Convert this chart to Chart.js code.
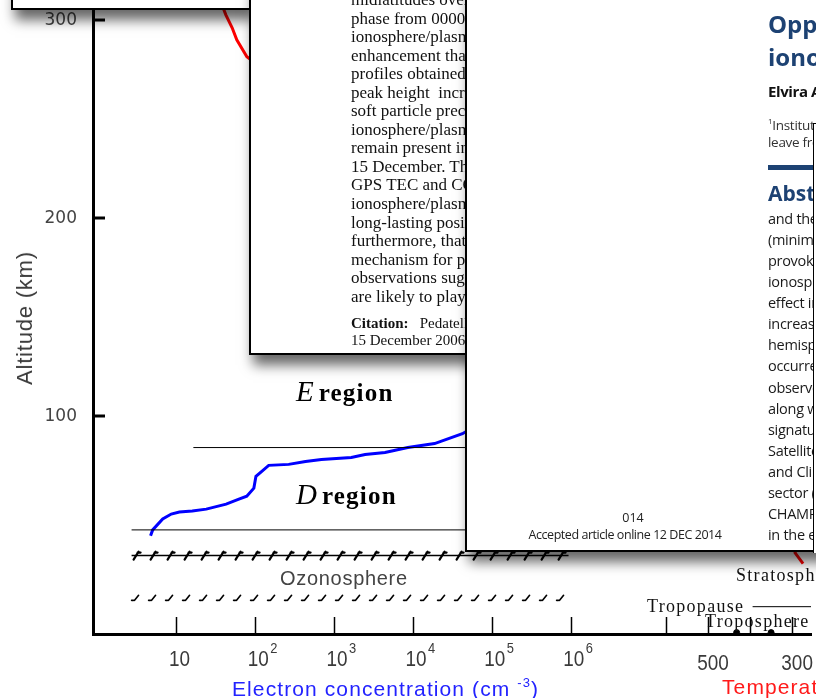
<!DOCTYPE html>
<html>
<head>
<meta charset="utf-8">
<title>Ionosphere profile</title>
<script src="https://cdn.jsdelivr.net/npm/chart.js@4.4.1/dist/chart.umd.min.js"></script>
<style>
  html, body { margin: 0; padding: 0; background: #fff; }
  #stage { position: relative; width: 816px; height: 698px; overflow: hidden; background: #fff; }
  #plot { position: absolute; left: 0; top: 0; }
  .lbl { position: absolute; white-space: nowrap; line-height: 1; }
  .sheet { position: absolute; background: #fff; border: 2px solid #000; box-sizing: border-box;
           overflow: hidden; box-shadow: 4px 10px 12px rgba(0,0,0,0.6); }
  .serif { font-family: 'Liberation Serif', 'Times New Roman', serif; }
  .sans { font-family: 'Open Sans', 'Noto Sans', sans-serif; }
  .region i { font-size: 29px; }
  .region b { font-size: 25px; letter-spacing: 1.2px; margin-left: 5px; }
  .atm { font-family: 'Liberation Serif', serif; font-size: 18px; letter-spacing: 1.3px; color: #111; }
  #p2text { position: absolute; left: 100px; top: 9px; font-size: 17px; line-height: 18.55px; color: #111; }
  #p2text div { white-space: nowrap; }
  .col { position: absolute; left: 301px; white-space: nowrap; line-height: 1; }
</style>
</head>
<body>
<div id="stage">
  <canvas id="plot" width="816" height="698"></canvas>

  <!-- axis titles -->
  <div class="lbl" style="left:25px; top:318px; font-family:'Liberation Sans',sans-serif; font-size:22px; letter-spacing:0.8px; color:#3a3a3a; transform:translate(-50%,-50%) rotate(-90deg);">Altitude (km)</div>
  <div class="lbl" style="left:232px; top:676px; font-family:'Liberation Sans',sans-serif; font-size:21px; letter-spacing:1.1px; color:#2323ff;">Electron concentration (cm <sup style="font-size:13px; vertical-align:9px;">-3</sup>)</div>
  <div class="lbl" style="left:722px; top:676px; font-family:'Liberation Sans',sans-serif; font-size:21px; letter-spacing:1.1px; color:#ff1a1a;">Temperature (K)</div>

  <!-- region labels -->
  <div class="lbl serif region" style="left:296px; top:377px;"><i>E</i><b>region</b></div>
  <div class="lbl serif region" style="left:296px; top:480px;"><i>D</i><b>region</b></div>
  <div class="lbl" style="left:280px; top:568px; font-family:'Liberation Sans',sans-serif; font-size:20px; letter-spacing:0.7px; color:#444;">Ozonosphere</div>
  <div class="lbl atm" style="left:736px; top:566px;">Stratosphere</div>
  <div class="lbl atm" style="left:647px; top:597px;">Tropopause</div>
  <div class="lbl atm" style="left:705px; top:612px;">Troposphere</div>

  <!-- overlapping article windows -->
  <div class="sheet" style="left:11px; top:-300px; width:240px; height:310px;"></div>

  <div class="sheet serif" style="left:249px; top:-20px; width:500px; height:375px;">
    <div id="p2text">
      <div>midlatitudes over the American sector during</div>
      <div>phase from 0000 UT to 0600 UT on</div>
      <div>ionosphere/plasmasphere</div>
      <div>enhancement that extends</div>
      <div>profiles obtained from</div>
      <div>peak height&nbsp; increase</div>
      <div>soft particle precipitation</div>
      <div>ionosphere/plasmasphere</div>
      <div>remain present in the</div>
      <div>15 December. The</div>
      <div>GPS TEC and COSMIC</div>
      <div>ionosphere/plasmasphere</div>
      <div>long-lasting positive</div>
      <div>furthermore, that the</div>
      <div>mechanism for positive</div>
      <div>observations suggest</div>
      <div>are likely to play</div>
      <div style="font-size:15px; margin-top:9px; line-height:16.6px;"><b>Citation:</b>&nbsp;&nbsp; Pedatella, N. M.</div>
      <div style="font-size:15px; line-height:16.6px;">15 December 2006 geomagnetic</div>
    </div>
  </div>

  <div class="sheet sans" style="left:465px; top:-50px; width:500px; height:602px;">
    <div class="col" style="top:60px; font-size:24px; font-weight:bold; color:#1d4273;">Opposite hemispheric</div>
    <div class="col" style="top:93px; font-size:24px; font-weight:bold; color:#1d4273;">ionospheric storm</div>
    <div class="col" style="top:132px; font-size:15px; font-weight:bold; letter-spacing:-0.4px; color:#111;">Elvira Astafyeva</div>
    <div class="col" style="top:165px; font-size:13.5px; letter-spacing:-0.3px; color:#333;"><sup style="font-size:8px;">1</sup>Institut de Physique</div>
    <div class="col" style="top:184px; font-size:13.5px; letter-spacing:-0.3px; color:#333;">leave from</div>
    <div class="col" style="top:213px; width:200px; height:5px; background:#1d4273;"></div>
    <div class="col" style="top:231px; font-size:21px; font-weight:bold; color:#1d4273;">Abstract</div>
    <div class="col" style="top:256px; font-size:14.5px; letter-spacing:-0.3px; color:#1a1a1a; line-height:21.06px;">
      <div>and the</div><div>(minimum</div><div>provoked</div><div>ionospheric</div><div>effect in</div>
      <div>increase</div><div>hemisphere</div><div>occurred</div><div>observed</div><div>along with</div>
      <div>signatures</div><div>Satellite</div><div>and Climate</div><div>sector (</div><div>CHAMP</div><div>in the evening</div>
    </div>
    <div class="lbl" style="left:166px; top:560px; font-size:12.5px; color:#222; transform:translateX(-50%);">014</div>
    <div class="lbl" style="left:158px; top:577px; font-size:12.5px; letter-spacing:-0.45px; color:#222; transform:translateX(-50%);">Accepted article online 12 DEC 2014</div>
  </div>

  <div style="position:absolute; left:813px; top:123px; width:60px; height:429px; background:#fff; border-left:1.5px solid #000; border-top:1px solid #000;"></div>
</div>

<script>
// electron concentration profile (cm^-3) against altitude (km)
const densityValues = [4.7, 5.0, 6.7, 8.6, 10.9, 15.9, 23.9, 42.7, 62, 78, 96, 102, 121, 148, 265, 434,
                       690, 1650, 2470, 4420, 8600, 18800, 42400, 100000, 150000, 300000, 1000000, 1500000];
const densityAltitudes = [39.6, 42.6, 48.1, 50.6, 51.6, 52.1, 53.1, 55.6, 58.1, 59.6, 63.7, 69.7, 72.2, 75.2, 75.7, 77.2,
                          78.2, 79.2, 80.7, 81.7, 84.2, 86.2, 91.2, 100, 110, 160, 250, 300];

// temperature profile (K) against altitude (km)
const tempValues = [1660, 1647, 1632, 1621, 1597, 1400, 900, 600, 300, 180, 260, 293, 274];
const tempAltitudes = [310, 302.8, 296.3, 290.2, 281.7, 250, 150, 120, 100, 85, 50, 31, 25.5];

// layer boundaries: altitude (km) and extent in cm^-3
const regionBoundaryAlt = [84.2, 42.6];
const regionBoundaryStart = [16.4, 2.7];
const regionBoundaryEnd = [100000, 100000];
const ozoneBoundaryAlt = [29.6, 8.0];
const ozoneBoundaryRange = [2.7, 940000];
const tropopauseAlt = 3.8;
const tropopauseTemps = [394, 250];
const surfaceMarkTemps = [432, 350];
const surfaceMarkAlt = -9.3;

// ticks
const altTicks = [100, 200, 300];
const densityTicks = [1e1, 1e2, 1e3, 1e4, 1e5, 1e6];
const densityExponents = ['', '2', '3', '4', '5', '6'];
const tempTicks = [600, 500, 400, 300];
const tempTickLabels = ['', '500', '', '300'];

function pairs(xs, ys) {
    return xs.map((v, i) => ({ x: v, y: ys[i] }));
}

const decorations = {
    id: 'decorations',
    afterDatasetsDraw(chart) {
        const ctx = chart.ctx;
        const area = chart.chartArea;
        const xs = chart.scales.x, xt = chart.scales.xT, ys = chart.scales.y;
        ctx.save();
        ctx.strokeStyle = '#000';
        ctx.lineCap = 'round';

        // hatched ozonosphere boundaries
        chart.data.datasets.forEach((ds, i) => {
            if (!ds.hatch) return;
            const pts = chart.getDatasetMeta(i).data;
            const a = pts[0], b = pts[pts.length - 1];
            for (let px = a.x + 5; px <= b.x; px += 17) {
                ctx.beginPath();
                if (ds.hatch === 'solid') {
                    ctx.lineWidth = 2.2;
                    ctx.moveTo(px - 3, a.y + 4);
                    ctx.lineTo(px + 2, a.y - 4);
                    ctx.moveTo(px + 1, a.y - 3);
                    ctx.lineTo(px + 4, a.y - 3);
                } else {
                    ctx.lineWidth = 1.6;
                    ctx.moveTo(px - 5, a.y + 2);
                    ctx.lineTo(px - 3, a.y + 2);
                    ctx.moveTo(px - 2, a.y + 2);
                    ctx.lineTo(px + 2, a.y - 3);
                }
                ctx.stroke();
            }
        });

        // inner ticks on the bottom axis
        ctx.lineCap = 'butt';
        ctx.lineWidth = 1.5;
        const tickRow = (scale, values) => values.forEach(v => {
            const px = Math.round(scale.getPixelForValue(v)) + 0.5;
            ctx.beginPath();
            ctx.moveTo(px, area.bottom);
            ctx.lineTo(px, area.bottom - 17);
            ctx.stroke();
        });
        tickRow(xs, densityTicks);
        tickRow(xt, tempTicks);

        // inner ticks on the altitude axis
        ctx.lineWidth = 3;
        altTicks.forEach(v => {
            const py = Math.round(ys.getPixelForValue(v));
            ctx.beginPath();
            ctx.moveTo(area.left, py);
            ctx.lineTo(area.left + 12, py);
            ctx.stroke();
        });
        ctx.restore();
    },
    afterDraw(chart) {
        const ctx = chart.ctx;
        const base = chart.chartArea.bottom;
        const xs = chart.scales.x, xt = chart.scales.xT;
        ctx.save();
        ctx.fillStyle = '#3a3a3a';
        ctx.textBaseline = 'alphabetic';
        const narrow = (text, x, y, size, align) => {
            ctx.save();
            ctx.translate(x, y);
            ctx.scale(0.86, 1);
            ctx.font = size + "px 'Liberation Sans', sans-serif";
            ctx.textAlign = align;
            ctx.fillText(text, 0, 0);
            ctx.restore();
        };
        densityTicks.forEach((v, i) => {
            const px = xs.getPixelForValue(v) + 3;
            narrow('10', px, base + 32, 22, 'center');
            if (densityExponents[i]) narrow(densityExponents[i], px + 12, base + 19, 15, 'left');
        });
        tempTicks.forEach((v, i) => {
            if (!tempTickLabels[i]) return;
            narrow(tempTickLabels[i], xt.getPixelForValue(v) + 5, base + 36, 22, 'center');
        });
        ctx.restore();
    }
};

new Chart(document.getElementById('plot'), {
    type: 'line',
    data: {
        datasets: [
            {
                data: pairs([regionBoundaryStart[0], regionBoundaryEnd[0]], [regionBoundaryAlt[0], regionBoundaryAlt[0]]),
                borderColor: '#000', borderWidth: 1
            },
            {
                data: pairs([regionBoundaryStart[1], regionBoundaryEnd[1]], [regionBoundaryAlt[1], regionBoundaryAlt[1]]),
                borderColor: '#000', borderWidth: 1
            },
            {
                data: pairs(ozoneBoundaryRange, [ozoneBoundaryAlt[0], ozoneBoundaryAlt[0]]),
                borderColor: '#000', borderWidth: 1.5, hatch: 'solid'
            },
            {
                data: pairs(ozoneBoundaryRange, [ozoneBoundaryAlt[1], ozoneBoundaryAlt[1]]),
                borderColor: 'rgba(0,0,0,0)', borderWidth: 1, hatch: 'dash'
            },
            {
                xAxisID: 'xT',
                data: pairs(tropopauseTemps, [tropopauseAlt, tropopauseAlt]),
                borderColor: '#000', borderWidth: 1
            },
            {
                data: pairs(densityValues, densityAltitudes),
                borderColor: '#0000ff', borderWidth: 3
            },
            {
                xAxisID: 'xT',
                data: pairs(tempValues, tempAltitudes),
                borderColor: '#ff0000', borderWidth: 3
            },
            {
                xAxisID: 'xT',
                data: pairs(surfaceMarkTemps, surfaceMarkTemps.map(() => surfaceMarkAlt)),
                showLine: false, pointRadius: 3, backgroundColor: '#000', borderColor: '#000'
            }
        ]
    },
    options: {
        responsive: false,
        animation: false,
        devicePixelRatio: 1,
        layout: { padding: 0 },
        plugins: { legend: { display: false }, tooltip: { enabled: false } },
        elements: { point: { radius: 0 }, line: { tension: 0 } },
        scales: {
            x: {
                type: 'logarithmic',
                position: 'bottom',
                min: 0.875,
                max: 1.117e9,
                grid: { display: false, drawTicks: false },
                border: { color: '#000', width: 3 },
                ticks: { display: false },
                afterFit(scale) {
                    scale.height = 64;
                    scale.paddingLeft = 0;
                    scale.paddingRight = 0;
                }
            },
            xT: {
                type: 'linear',
                position: 'bottom',
                reverse: true,
                min: 255.1,
                max: 1963,
                display: false
            },
            y: {
                type: 'linear',
                min: -10,
                max: 307.8,
                grid: { display: false, drawTicks: false },
                border: { color: '#000', width: 3 },
                ticks: {
                    padding: 16,
                    color: '#444',
                    font: { family: "'DejaVu Sans', sans-serif", size: 17 },
                    callback: (value) => String(value)
                },
                afterBuildTicks(scale) {
                    scale.ticks = altTicks.map(v => ({ value: v }));
                },
                afterFit(scale) {
                    scale.width = 93;
                    scale.paddingTop = 0;
                    scale.paddingBottom = 0;
                }
            }
        }
    },
    plugins: [decorations]
});
</script>
</body>
</html>
